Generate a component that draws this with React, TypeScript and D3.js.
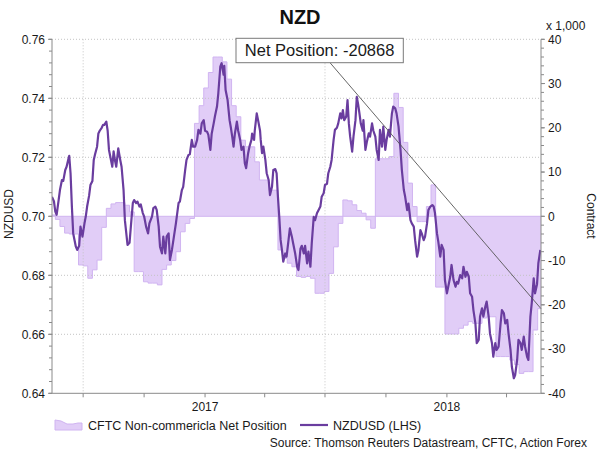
import React from "react";
import * as d3 from "d3";

// ---------- data ----------
const nzdBaseDate = "2016-05-15";
const nzdDays = [
  0, 3, 5, 7, 10, 12, 15, 17, 20, 22, 25, 26, 28, 30, 32, 36, 38, 41, 43, 46, 49, 51, 53, 56, 58, 61, 63, 65, 68, 70,
  72, 75, 77, 79, 82, 84, 86, 89, 91, 93, 95, 97, 100, 103, 105, 108, 110, 114, 117, 119, 122, 124, 127, 129, 132, 134,
  137, 139, 142, 145, 147, 151, 153, 156, 158, 161, 163, 166, 168, 171, 173, 176, 178, 181, 184, 187, 191, 193, 196, 198,
  201, 203, 206, 208, 211, 213, 216, 219, 221, 224, 226, 229, 231, 234, 236, 239, 241, 244, 246, 249, 251, 254, 256, 259,
  260, 262, 265, 268, 270, 272, 274, 276, 279, 281, 284, 286, 289, 291, 293, 296, 298, 301, 302, 305, 306, 309, 311, 314,
  315, 317, 319, 322, 324, 327, 329, 332, 334, 337, 339, 341, 343, 345, 347, 349, 352, 354, 357, 359, 362, 364, 367, 370,
  372, 375, 377, 380, 382, 385, 387, 390, 392, 395, 397, 400, 402, 405, 407, 410, 412, 415, 417, 420, 422, 425, 427, 430,
  432, 435, 437, 439, 441, 444, 446, 448, 450, 453, 455, 458, 460, 462, 464, 466, 469, 470, 473, 475, 478, 480, 483, 485,
  488, 490, 493, 495, 498, 500, 503, 505, 508, 510, 513, 515, 518, 520, 523, 526, 528, 531, 533, 536, 538, 541, 543, 546,
  548, 551, 553, 556, 558, 561, 563, 566, 568, 571, 574, 576, 578, 581, 583, 586, 588, 591, 593, 596, 598, 601, 603, 606,
  609, 611, 613, 616, 619, 621, 624, 626, 629, 631, 634, 636, 639, 641, 644, 646, 649, 651, 654, 656, 659, 661, 664, 666,
  669, 671, 674, 677, 679, 682, 684, 687, 689, 692, 694, 697, 699, 702, 704, 707, 709, 712, 714, 717, 719, 722, 724, 727,
  729, 732, 734, 737,
];
const nzdUsd = [
  0.7066, 0.705, 0.7016, 0.7005, 0.7055, 0.7089, 0.7123, 0.712, 0.7157, 0.7168, 0.7197, 0.7205, 0.7146, 0.7033, 0.6942,
  0.6897, 0.6886, 0.69, 0.6965, 0.6931, 0.6976, 0.7, 0.7033, 0.707, 0.7106, 0.712, 0.7191, 0.721, 0.7236, 0.7281,
  0.729, 0.73, 0.731, 0.731, 0.7321, 0.729, 0.7225, 0.7191, 0.7168, 0.722, 0.719, 0.7168, 0.723, 0.7191, 0.7168, 0.7089,
  0.6987, 0.6903, 0.691, 0.6965, 0.7045, 0.7055, 0.7045, 0.705, 0.7033, 0.704, 0.7011, 0.7, 0.6965, 0.6942, 0.6976, 0.7,
  0.7028, 0.7033, 0.7022, 0.6965, 0.6897, 0.6874, 0.6931, 0.6874, 0.6931, 0.6942, 0.6852, 0.6886, 0.6931, 0.6976,
  0.7045, 0.705, 0.7089, 0.71, 0.7157, 0.7191, 0.7208, 0.721, 0.7259, 0.7236, 0.7236, 0.7259, 0.7293, 0.728, 0.7315,
  0.7326, 0.729, 0.7287, 0.7276, 0.7225, 0.728, 0.7315, 0.734, 0.7372, 0.7417, 0.7507, 0.7519, 0.748, 0.751, 0.7428,
  0.7394, 0.7326, 0.73, 0.727, 0.7236, 0.728, 0.7321, 0.729, 0.7259, 0.7225, 0.7236, 0.718, 0.7163, 0.7214, 0.7236,
  0.7259, 0.728, 0.7259, 0.729, 0.7349, 0.7326, 0.729, 0.7259, 0.7214, 0.7236, 0.7191, 0.7146, 0.7123, 0.7072, 0.71,
  0.7157, 0.716, 0.7146, 0.7066, 0.6998, 0.692, 0.6886, 0.6846, 0.6874, 0.6863, 0.692, 0.6959, 0.6931, 0.6908, 0.6874,
  0.6829, 0.6818, 0.689, 0.69, 0.6874, 0.69, 0.684, 0.688, 0.6829, 0.6908, 0.6998, 0.6987, 0.7011, 0.702, 0.7033,
  0.7066, 0.7078, 0.7106, 0.711, 0.7146, 0.7168, 0.7191, 0.7259, 0.7293, 0.73, 0.7315, 0.7349, 0.7332, 0.736, 0.7326,
  0.7338, 0.7394, 0.7315, 0.727, 0.7219, 0.727, 0.7326, 0.7405, 0.738, 0.7349, 0.7315, 0.729, 0.7326, 0.7225, 0.725,
  0.7281, 0.727, 0.7315, 0.729, 0.727, 0.7225, 0.7191, 0.7293, 0.7236, 0.7304, 0.7225, 0.7259, 0.7293, 0.727, 0.7349,
  0.7372, 0.7366, 0.7349, 0.7304, 0.7225, 0.7157, 0.7089, 0.7066, 0.7021, 0.7043, 0.6987, 0.6976, 0.6965, 0.6919,
  0.6863, 0.6885, 0.6953, 0.6942, 0.6919, 0.6931, 0.6976, 0.7021, 0.7033, 0.7038, 0.7033, 0.7011, 0.6942, 0.6914,
  0.6863, 0.6903, 0.6886, 0.6784, 0.6739, 0.6761, 0.6795, 0.6835, 0.6784, 0.6761, 0.6778, 0.6772, 0.6801, 0.679,
  0.6829, 0.6795, 0.6812, 0.6795, 0.6739, 0.6727, 0.6682, 0.6637, 0.657, 0.6581, 0.666, 0.6688, 0.666, 0.6694, 0.6711,
  0.666, 0.6603, 0.657, 0.6524, 0.657, 0.6547, 0.6558, 0.6637, 0.6682, 0.6671, 0.6637, 0.6649, 0.6603, 0.6547, 0.649,
  0.6451, 0.6462, 0.6513, 0.6581, 0.657, 0.6547, 0.6592, 0.6558, 0.6524, 0.6513, 0.666, 0.6705, 0.679, 0.6739, 0.677,
  0.6841, 0.6886,
];

const cftcStartDate = "2016-05-13"; // weekly
const cftcNetK = [
  0.3, -0.7, -2.3, -3.8, -4.0, -4.0, -11.0, -11.2, -14.0, -12.1, -9.9, -2.5, 1.8, 2.8, 3.1, 3.1, 2.5, 1.0, -12.5, -12.5,
  -14.8, -15.1, -15.1, -15.5, -12.0, -11.0, -10.0, -8.0, -3.5, -1.6, -0.5, 21.0, 25.0, 29.0, 32.5, 36.0, 36.0, 34.9,
  31.0, 25.0, 22.5, 17.2, 15.7, 15.7, 12.3, 8.2, 8.2, 5.9, 5.9, -7.6, -9.5, -10.6, -11.4, -13.6, -13.8, -13.6, -14.0,
  -17.4, -17.4, -17.0, -12.9, -6.9, -1.6, 3.7, 3.5, 2.6, 1.3, 0.7, -0.8, -2.7, 13.0, 13.0, 13.0, 13.5, 27.8, 24.6, 16.7,
  7.5, 2.2, -1.2, -1.2, 2.2, 7.1, -16.0, -16.0, -26.6, -26.6, -26.6, -25.3, -24.6, -23.8, -24.2, -24.2, -23.0, -22.7,
  -22.7, -31.7, -31.7, -31.7, -32.5, -33.5, -35.5, -35.1, -35.1, -25.7, -20.868,
];

const leftTicks = [0.64, 0.66, 0.68, 0.7, 0.72, 0.74, 0.76];
const leftGrid = [0.66, 0.68, 0.72, 0.74, 0.76];
const rightTicks = [-40, -30, -20, -10, 0, 10, 20, 30, 40];
const quarterTicks = ["2016-07-01", "2016-10-01", "2017-01-01", "2017-04-01", "2017-07-01", "2017-10-01", "2018-01-01", "2018-04-01"];
const vGrid = ["2016-07-01", "2017-07-01"];
const yearLabels = [
  { date: "2017-01-01", label: "2017" },
  { date: "2018-01-01", label: "2018" },
];
const xDomain = ["2016-05-15", "2018-05-23"];
const netPosition = -20868;

const title = "NZD";
const legendArea = "CFTC Non-commericla Net Position";
const legendLine = "NZDUSD (LHS)";
const sourceText = "Source: Thomson Reuters Datastream, CFTC, Action Forex";

export default function App() {
  const W = 600,
    H = 450;
  const L = 52,
    R = 541,
    T = 39.3,
    B = 393.3;
  const font = "'Liberation Sans', Arial, sans-serif";
  const parse = d3.timeParse("%Y-%m-%d");

  const x = d3
    .scaleTime()
    .domain(xDomain.map((d) => parse(d) as Date))
    .range([L, R]);
  const yL = d3.scaleLinear().domain([0.64, 0.76]).range([B, T]);
  const yR = d3.scaleLinear().domain([-40, 40]).range([B, T]);

  const base = parse(nzdBaseDate) as Date;
  const nzd = nzdDays.map((d, i) => ({ date: d3.timeDay.offset(base, d), v: nzdUsd[i] }));
  const cStart = parse(cftcStartDate) as Date;
  const cftc = cftcNetK.map((v, i) => ({ date: d3.timeWeek.offset(cStart, i), v }));
  const cftcExt = [...cftc, { date: parse(xDomain[1]) as Date, v: cftcNetK[cftcNetK.length - 1] }];

  const areaGen = d3
    .area<{ date: Date; v: number }>()
    .x((d) => x(d.date))
    .y0(yR(0))
    .y1((d) => yR(d.v))
    .curve(d3.curveStepAfter);
  const edgeGen = d3
    .line<{ date: Date; v: number }>()
    .x((d) => x(d.date))
    .y((d) => yR(d.v))
    .curve(d3.curveStepAfter);
  const lineGen = d3
    .line<{ date: Date; v: number }>()
    .x((d) => x(d.date))
    .y((d) => yL(d.v));

  const leftMinor = d3.range(0.64, 0.7601, 0.004);
  const rightMinor = d3.range(-40, 40.01, 2);

  const axisCol = "#8a8a8a";
  const gridCol = "#c4c4c4";
  const txt = "#1a1a1a";

  const annX2 = x(parse(xDomain[1]) as Date);
  const annY2 = yR(netPosition / 1000);

  return (
    <svg
      width={W}
      height={H}
      style={{ position: "absolute", left: 0, top: 0, background: "#fff" }}
      fontFamily={font}
    >
      <defs>
        <clipPath id="plot">
          <rect x={L} y={T} width={R - L} height={B - T} />
        </clipPath>
      </defs>
      <rect x={0} y={0} width={W} height={H} fill="#fff" />

      {/* area */}
      <g clipPath="url(#plot)">
        <path d={areaGen(cftcExt) || ""} fill="#e1cdf7" />
        <path d={edgeGen(cftcExt) || ""} fill="none" stroke="#d0b4f1" strokeWidth={1} />
        <line x1={L} x2={R} y1={yR(0)} y2={yR(0)} stroke="#d0b4f1" strokeWidth={1} />
      </g>

      {/* grid */}
      {leftGrid.map((v) => (
        <line key={"g" + v} x1={L} x2={R} y1={yL(v)} y2={yL(v)} stroke={gridCol} strokeWidth={1} strokeDasharray="1,2" />
      ))}
      {vGrid.map((d) => (
        <line
          key={"v" + d}
          x1={x(parse(d) as Date)}
          x2={x(parse(d) as Date)}
          y1={T}
          y2={B}
          stroke={gridCol}
          strokeWidth={1}
          strokeDasharray="1,2"
        />
      ))}

      {/* NZDUSD line */}
      <g clipPath="url(#plot)">
        <path d={lineGen(nzd) || ""} fill="none" stroke="#6a3d9f" strokeWidth={2.2} strokeLinejoin="round" />
      </g>

      {/* annotation */}
      <line x1={330} y1={62.7} x2={annX2} y2={annY2} stroke="#555" strokeWidth={0.9} />
      <rect x={236} y={38.3} width={167.3} height={24.4} fill="#fff" stroke="#7a7a7a" strokeWidth={1} />
      <text x={319.6} y={56.3} textAnchor="middle" fontSize={16.5} fill={txt}>
        {"Net Position: " + netPosition}
      </text>

      {/* left axis */}
      <line x1={L} x2={L} y1={T} y2={B} stroke={axisCol} />
      {leftMinor.map((v, i) => (
        <line key={"lm" + i} x1={L - 3} x2={L} y1={yL(v)} y2={yL(v)} stroke={axisCol} />
      ))}
      {leftTicks.map((v) => (
        <g key={"lt" + v}>
          <line x1={L - 4} x2={L} y1={yL(v)} y2={yL(v)} stroke={axisCol} />
          <text x={45} y={yL(v) + 4.3} textAnchor="end" fontSize={12} fill={txt}>
            {d3.format(".2f")(v)}
          </text>
        </g>
      ))}
      <text transform={`translate(13,214) rotate(-90)`} textAnchor="middle" fontSize={12} fill={txt}>
        NZDUSD
      </text>

      {/* right axis */}
      <line x1={R} x2={R} y1={T} y2={B} stroke={axisCol} />
      {rightMinor.map((v, i) => (
        <line key={"rm" + i} x1={R} x2={R + 3} y1={yR(v)} y2={yR(v)} stroke={axisCol} />
      ))}
      {rightTicks.map((v) => (
        <g key={"rt" + v}>
          <line x1={R} x2={R + 4} y1={yR(v)} y2={yR(v)} stroke={axisCol} />
          <text x={548} y={yR(v) + 4.3} textAnchor="start" fontSize={12} fill={txt}>
            {v}
          </text>
        </g>
      ))}
      <text x={546} y={30} fontSize={12} fill={txt}>
        x 1,000
      </text>
      <text transform={`translate(586.5,216) rotate(90)`} textAnchor="middle" fontSize={12} fill={txt}>
        Contract
      </text>

      {/* bottom axis */}
      <line x1={L} x2={R} y1={B} y2={B} stroke={axisCol} />
      {quarterTicks.map((d) => (
        <line key={"q" + d} x1={x(parse(d) as Date)} x2={x(parse(d) as Date)} y1={B} y2={B + 4} stroke={axisCol} />
      ))}
      {yearLabels.map((y) => (
        <text key={y.label} x={x(parse(y.date) as Date)} y={411} textAnchor="middle" fontSize={12} fill={txt}>
          {y.label}
        </text>
      ))}

      {/* title */}
      <text x={300} y={23.5} textAnchor="middle" fontSize={20} fontWeight="bold" fill="#111">
        {title}
      </text>

      {/* legend */}
      <path d="M55,420 L61,421 L67,424 L73,424 L78,423 L82,423 L82,430 L55,430 Z" fill="#e1cdf7" stroke="#d0b4f1" />
      <text x={88} y={430} fontSize={12.5} fill={txt}>
        {legendArea}
      </text>
      <line x1={300} x2={328} y1={425} y2={425} stroke="#6a3d9f" strokeWidth={2.2} />
      <text x={333} y={430} fontSize={12.5} fill={txt}>
        {legendLine}
      </text>
      <text x={587} y={446.5} textAnchor="end" fontSize={12} fill={txt}>
        {sourceText}
      </text>
    </svg>
  );
}
